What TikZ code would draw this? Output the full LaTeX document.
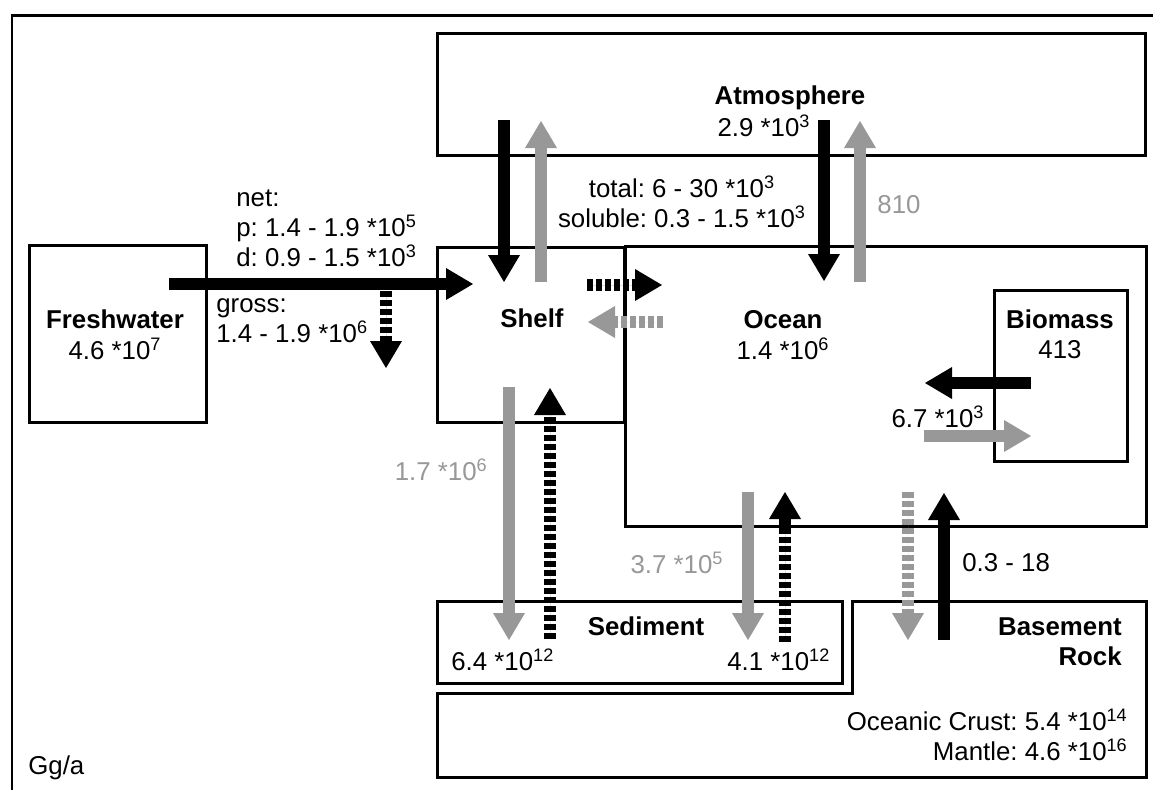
\documentclass[tikz,border=0pt]{standalone}
\usepackage{fontspec}
\setmainfont{Liberation Sans}
\usetikzlibrary{arrows.meta}
\newcommand{\ex}[1]{\textsuperscript{#1}}
\definecolor{fluxgray}{RGB}{152,152,152}
\frenchspacing
\begin{document}
\begin{tikzpicture}[x=0.02cm,y=-0.02cm,
  font=\fontsize{14.7pt}{17.2pt}\selectfont,
  box/.style={draw, line width=0.06cm, inner sep=0pt},
  flux/.style={line width=0.24cm, -{Triangle[width=0.64cm,length=0.54cm,line width=0pt]}},
  blk/.style={flux, draw=black, fill=black},
  gry/.style={flux, draw=fluxgray, fill=fluxgray},
  dsh/.style={dash pattern=on 0.12cm off 0.06cm},
  lbl/.style={inner sep=0pt, align=left},
  glbl/.style={lbl, text=fluxgray},
  ttl/.style={inner sep=0pt, font=\fontsize{14.7pt}{17.2pt}\selectfont\bfseries}
]
\useasboundingbox[fill=white] (0,0) rectangle (1153,789);
% outer frame
\draw[line width=0.06cm] (12,800) -- (12,15) -- (1170,15);

% boxes
\node[box, minimum width=14.18cm, minimum height=2.46cm] (atm) at (791.5,94.5) {};
\node[box, minimum width=3.56cm, minimum height=3.56cm] (fw) at (118,334) {};
\node[box, minimum width=3.76cm, minimum height=3.52cm] (shelf) at (531,335) {};
\node[box, minimum width=10.44cm, minimum height=5.62cm] (ocean) at (886,386.5) {};
\node[box, minimum width=2.68cm, minimum height=3.44cm] (bio) at (1061,376) {};
\node[box, minimum width=8.12cm, minimum height=1.64cm] (sed) at (640,642) {};
\draw[line width=0.06cm] (852,601) coordinate (br1) -- (1146,601) -- (1146,777) -- (437,777) -- (437,693) -- (852,693) -- cycle;

% titles and values
\node[ttl] (atmT) at (790,98) {Atmosphere};
\node[lbl] (atmV) at (764,126) {2.9 *10\ex{3}};
\node[ttl] (fwT) at (115,319) {Freshwater};
\node[lbl] (fwV) at (115,349) {4.6 *10\ex{7}};
\node[ttl] (shT) at (532,318) {Shelf};
\node[ttl] (ocT) at (783,320) {Ocean};
\node[lbl] (ocV) at (783,349) {1.4 *10\ex{6}};
\node[ttl] (bioT) at (1060,319) {Biomass};
\node[lbl] (bioV) at (1060,350) {413};
\node[ttl] (sedT) at (646,626) {Sediment};
\node[ttl, align=right, anchor=east] (brT) at (1122,642) {Basement\\Rock};
\node[lbl, align=right, anchor=east] (brV) at (1128,735) {Oceanic Crust: 5.4 *10\ex{14}\\Mantle: 4.6 *10\ex{16}};
\node[lbl, anchor=west] (unit) at (28,768) {Gg/a};

% flux labels
\node[lbl, anchor=west] (netL) at (236,228) {net:\\p: 1.4 - 1.9 *10\ex{5}\\d: 0.9 - 1.5 *10\ex{3}};
\node[lbl, anchor=west] (grossL) at (216,321) {gross:\\1.4 - 1.9 *10\ex{6}};
\node[lbl, align=center] (atmL) at (682,202) {total: 6 - 30 *10\ex{3}\\soluble: 0.3 - 1.5 *10\ex{3}};
\node[glbl] (l810) at (899,205) {810};
\node[lbl] (bioL) at (938,417) {6.7 *10\ex{3}};
\node[glbl, anchor=east] (shsedL) at (488,470) {1.7 *10\ex{6}};
\node[glbl] (ocsedL) at (677,563) {3.7 *10\ex{5}};
\node[lbl, anchor=west] (brL) at (962,563) {0.3 - 18};
\node[lbl, anchor=west] (sed1) at (451,660) {6.4 *10\ex{12}};
\node[lbl, anchor=west] (sed2) at (727,660) {4.1 *10\ex{12}};

% arrow end points
\coordinate (a1s) at (169,284); \coordinate (a1e) at (473,284);
\coordinate (a2s) at (386,291); \coordinate (a2e) at (386,368);
\coordinate (a3s) at (504,120); \coordinate (a3e) at (504,282);
\coordinate (a4s) at (541,282); \coordinate (a4e) at (541,121);
\coordinate (a5s) at (824,120); \coordinate (a5e) at (824,281);
\coordinate (a6s) at (860,282); \coordinate (a6e) at (860,121);
\coordinate (a7s) at (587,285); \coordinate (a7e) at (662,285);
\coordinate (a8s) at (663,322); \coordinate (a8e) at (588,322);
\coordinate (a9s) at (1031,383); \coordinate (a9e) at (925,383);
\coordinate (a10s) at (924,436); \coordinate (a10e) at (1031,436);
\coordinate (a11s) at (509,387); \coordinate (a11e) at (509,640);
\coordinate (a12s) at (550,639); \coordinate (a12e) at (550,388);
\coordinate (a13s) at (748,492); \coordinate (a13e) at (748,640);
\coordinate (a14s) at (785,642); \coordinate (a14e) at (785,492);
\coordinate (a15s) at (908,492); \coordinate (a15e) at (908,640);
\coordinate (a16s) at (944,640); \coordinate (a16e) at (944,493);

% arrows
\draw[blk] (a1s) -- (a1e);
\draw[blk, dsh] (a2s) -- (a2e);
\draw[blk] (a3s) -- (a3e);
\draw[gry] (a4s) -- (a4e);
\draw[blk] (a5s) -- (a5e);
\draw[gry] (a6s) -- (a6e);
\draw[blk, dsh] (a7s) -- (a7e);
\draw[gry, dsh] (a8s) -- (a8e);
\draw[blk] (a9s) -- (a9e);
\draw[gry] (a10s) -- (a10e);
\draw[gry] (a11s) -- (a11e);
\draw[blk, dsh] (a12s) -- (a12e);
\draw[gry] (a13s) -- (a13e);
\draw[blk, dsh] (a14s) -- (a14e);
\draw[gry, dsh] (a15s) -- (a15e);
\draw[blk] (a16s) -- (a16e);
\end{tikzpicture}
\end{document}
